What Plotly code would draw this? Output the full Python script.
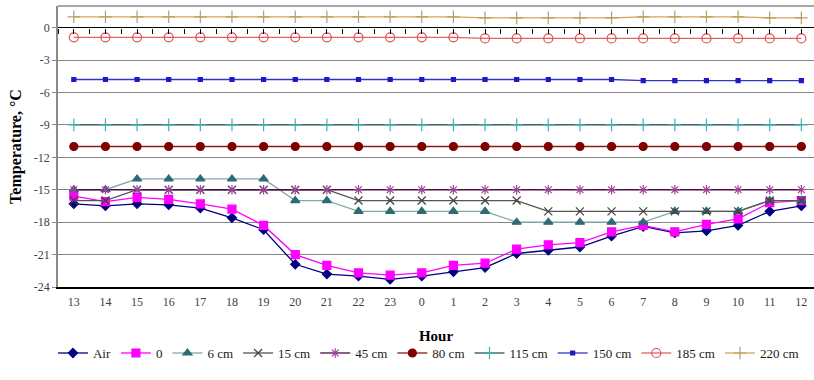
import plotly.graph_objects as go

# Hourly soil/air temperature profile
hours = ["13", "14", "15", "16", "17", "18", "19", "20", "21", "22", "23",
         "0", "1", "2", "3", "4", "5", "6", "7", "8", "9", "10", "11", "12"]

air = [-16.3, -16.5, -16.3, -16.4, -16.7, -17.6, -18.7, -21.9, -22.8, -23.0, -23.3,
       -23.0, -22.6, -22.2, -20.9, -20.6, -20.3, -19.3, -18.4, -19.0, -18.8, -18.3, -17.0, -16.5]
d0 = [-15.6, -16.1, -15.7, -15.9, -16.3, -16.8, -18.3, -21.0, -22.0, -22.7, -22.9,
      -22.7, -22.0, -21.8, -20.5, -20.1, -19.9, -18.9, -18.3, -18.9, -18.2, -17.7, -16.2, -16.0]
d6 = [-15, -15, -14, -14, -14, -14, -14, -16, -16, -17, -17,
      -17, -17, -17, -18, -18, -18, -18, -18, -17, -17, -17, -16, -16]
d15 = [-16, -16, -15, -15, -15, -15, -15, -15, -15, -16, -16,
       -16, -16, -16, -16, -17, -17, -17, -17, -17, -17, -17, -16, -16]
d45 = [-15] * 24
d80 = [-11] * 24
d115 = [-9] * 24
d150 = [-4.8] * 18 + [-4.9] * 6
d185 = [-0.9] * 13 + [-1.0] * 11
d220 = [1.0] * 13 + [0.9] * 5 + [1.0] * 4 + [0.9] * 2

series = [
    ("Air", air, "#000080", "#000080", "diamond", 7),
    ("0", d0, "#FF00FF", "#FF00FF", "square", 8),
    ("6 cm", d6, "#80A8AE", "#2F6B74", "triangle-up", 8),
    ("15 cm", d15, "#555555", "#404040", "x-thin-open", 8),
    ("45 cm", d45, "#4A0A40", "#A040A0", "asterisk-open", 8),
    ("80 cm", d80, "#8B1A1A", "#800000", "circle", 8),
    ("115 cm", d115, "#2A5A5A", "#3CB4B4", "cross-thin-open", 9),
    ("150 cm", d150, "#3434C8", "#1A1AC8", "square", 4),
    ("185 cm", d185, "#E06464", "#E05050", "circle-open", 9),
    ("220 cm", d220, "#D9A25A", "#B8A060", "cross-thin-open", 9),
]

fig = go.Figure()
for name, vals, lcol, mcol, sym, size in series:
    fig.add_trace(go.Scatter(
        x=hours, y=vals, name=name, mode="lines+markers",
        line=dict(color=lcol, width=1.3),
        marker=dict(symbol=sym, size=size, color=mcol,
                    line=dict(color=mcol, width=1.2)),
    ))

# invisible trace carrying the tick-mark axis drawn along y = 0
fig.add_trace(go.Scatter(x=[], y=[], xaxis="x2", showlegend=False, hoverinfo="skip"))

serif = "Liberation Serif, Times New Roman, serif"
y_min, y_max = -24, 2

fig.update_layout(
    width=814, height=380,
    margin=dict(l=58, r=0, t=6, b=93),
    paper_bgcolor="white", plot_bgcolor="white",
    font=dict(family=serif, color="#404040"),
    showlegend=True,
    legend=dict(orientation="h", x=0.49, xanchor="center", y=-0.235, yanchor="middle",
                font=dict(family=serif, size=13, color="#1a1a1a"),
                itemwidth=30, tracegroupgap=0, bgcolor="rgba(0,0,0,0)"),
    xaxis=dict(type="category", range=[-0.5, 23.4], showgrid=False, zeroline=False,
               showline=True, linecolor="black", linewidth=1.5, ticks="",
               tickfont=dict(family=serif, size=12, color="#404040"),
               ticklabelstandoff=3,
               title=dict(text="<b>Hour</b>", font=dict(family=serif, size=15, color="black"),
                          standoff=22)),
    xaxis2=dict(overlaying="x", anchor="free", side="bottom",
                position=(0 - y_min) / (y_max - y_min),
                range=[-0.5, 23.4], tickmode="linear", tick0=-0.5, dtick=0.5,
                ticks="outside", ticklen=5, tickwidth=1, tickcolor="black",
                showticklabels=False, showgrid=False, zeroline=False, showline=False),
    yaxis=dict(range=[y_min, y_max], tickmode="array",
               tickvals=[0, -3, -6, -9, -12, -15, -18, -21, -24],
               ticktext=["0", "-3", "-6", "-9", "-12", "-15", "-18", "-21", "-24"],
               showgrid=True, gridcolor="#858585", gridwidth=1.4,
               zeroline=True, zerolinecolor="black", zerolinewidth=1.4,
               showline=True, linecolor="#8a8a8a", linewidth=1.5,
               ticks="outside", ticklen=4, tickcolor="#8a8a8a",
               tickfont=dict(family=serif, size=12, color="#404040"),
               title=dict(text="<b>Temperature, °C</b>",
                          font=dict(family=serif, size=16, color="black"), standoff=8)),
    shapes=[dict(type="line", xref="paper", yref="paper", x0=0, x1=1, y0=1, y1=1,
                 line=dict(color="#8a8a8a", width=1.5))],
)

fig.write_html("out.html")
